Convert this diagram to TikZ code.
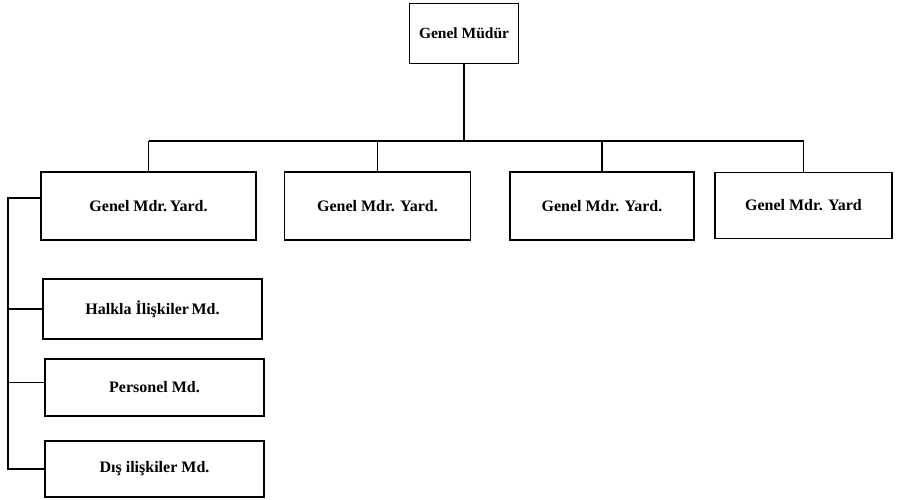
\documentclass[tikz,border=0pt]{standalone}
\usepackage{fontspec}
\setmainfont{Liberation Serif}
\usepackage{tikz}
\usetikzlibrary{positioning}

\begin{document}
\begin{tikzpicture}[x=1pt,y=-1pt]
\tikzstyle{kutu} = [draw, line width=1.6pt, align=center, inner sep=0pt,
    font=\fontsize{16}{18}\selectfont\bfseries]
\tikzstyle{hat} = [line width=1.3pt]
\useasboundingbox (0,0) rectangle (899,499);
\node[kutu, minimum width=109pt, minimum height=60pt, font=\fontsize{15.5}{17}\selectfont\bfseries] (gm) at (464,33.5) {Genel Müdür};
\node[kutu, minimum width=215pt, minimum height=68pt] (y1) at (148.5,206) {Genel Mdr.\,Yard.};
\node[kutu, minimum width=186pt, minimum height=68pt] (y2) at (377.5,206) {Genel Mdr. Yard.};
\node[kutu, minimum width=184pt, minimum height=68pt] (y3) at (602,206) {Genel Mdr. Yard.};
\node[kutu, minimum width=177pt, minimum height=66pt] (y4) at (803.5,205.5) {Genel Mdr. Yard};
\node[kutu, minimum width=219pt, minimum height=60pt] (hi) at (152.5,309) {Halkla İlişkiler\,Md.};
\node[kutu, minimum width=219pt, minimum height=57pt] (pm) at (154.5,387.5) {Personel Md.};
\node[kutu, minimum width=219pt, minimum height=56pt] (dm) at (154.5,469) {Dış ilişkiler Md.};
\coordinate (bar) at (465,141);
\coordinate (trunk) at (8,300);
% ust kademe
\draw[hat] (gm.south) -- (gm.south |- bar);
\draw[hat] (y1.north |- bar) -- (y4.north |- bar);
\foreach \y in {y1,y2,y3,y4}
    \draw[hat] (\y.north) -- (\y.north |- bar);
% sol kol
\draw[hat] ([yshift=8pt]y1.west) -- ([yshift=8pt]y1.west -| trunk) |- (dm.west);
\draw[hat] (hi.west) -- (hi.west -| trunk);
\draw[hat] ([yshift=5pt]pm.west) -- ([yshift=5pt]pm.west -| trunk);
\end{tikzpicture}
\end{document}
